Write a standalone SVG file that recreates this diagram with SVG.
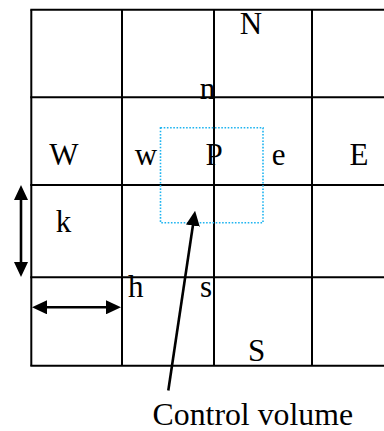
<svg xmlns="http://www.w3.org/2000/svg" width="384" height="431" viewBox="0 0 384 431">
<style>
.grid{stroke:#000;stroke-width:2;fill:none}
.arr{stroke:#000;stroke-width:2.6;fill:none}
.cv{stroke:#1EB4F0;stroke-width:1.6;fill:none;stroke-dasharray:1.6 1.6}
.lbl{font-family:'Liberation Serif','Times New Roman','DejaVu Serif',serif;font-size:31px;fill:#000;text-anchor:middle}
</style>
<defs>
<marker id="ah" viewBox="0 0 15 14" markerWidth="15" markerHeight="14" refX="9" refY="7" markerUnits="userSpaceOnUse" orient="auto-start-reverse">
<path d="M0,0 L15,7 L0,14 z" fill="#000"/>
</marker>
</defs>
<rect width="384" height="431" fill="#fff"/>
<g id="grid" class="grid">
<line x1="31.3" y1="9.7" x2="31.3" y2="365.7"/>
<line x1="122" y1="9.7" x2="122" y2="365.7"/>
<line x1="214" y1="9.7" x2="214" y2="365.7"/>
<line x1="312" y1="9.7" x2="312" y2="365.7"/>
<line x1="30.3" y1="9.7" x2="384" y2="9.7"/>
<line x1="30.3" y1="97.3" x2="384" y2="97.3"/>
<line x1="30.3" y1="185" x2="384" y2="185"/>
<line x1="30.3" y1="277.3" x2="384" y2="277.3"/>
<line x1="30.3" y1="365.7" x2="384" y2="365.7"/>
</g>
<g id="control-volume-box">
<rect class="cv" x="160.5" y="127.7" width="102.5" height="95"/>
</g>
<g id="labels" class="lbl">
<text x="251" y="34">N</text>
<text x="207.5" y="99">n</text>
<text x="64" y="165">W</text>
<text x="146" y="165">w</text>
<text x="214" y="165">P</text>
<text x="278.7" y="165">e</text>
<text x="359" y="165">E</text>
<text x="63.5" y="231.5">k</text>
<text x="135.8" y="296.5">h</text>
<text x="206" y="296.5">s</text>
<text x="256.7" y="361">S</text>
<text x="252.8" y="425" font-size="31.8">Control volume</text>
</g>
<g id="connectors" class="arr">
<line x1="21" y1="191" x2="21" y2="271" marker-start="url(#ah)" marker-end="url(#ah)"/>
<line x1="38" y1="307.3" x2="115" y2="307.3" marker-start="url(#ah)" marker-end="url(#ah)"/>
<line x1="168.3" y1="390.5" x2="194.2" y2="216.7" marker-end="url(#ah)"/>
</g>
</svg>
